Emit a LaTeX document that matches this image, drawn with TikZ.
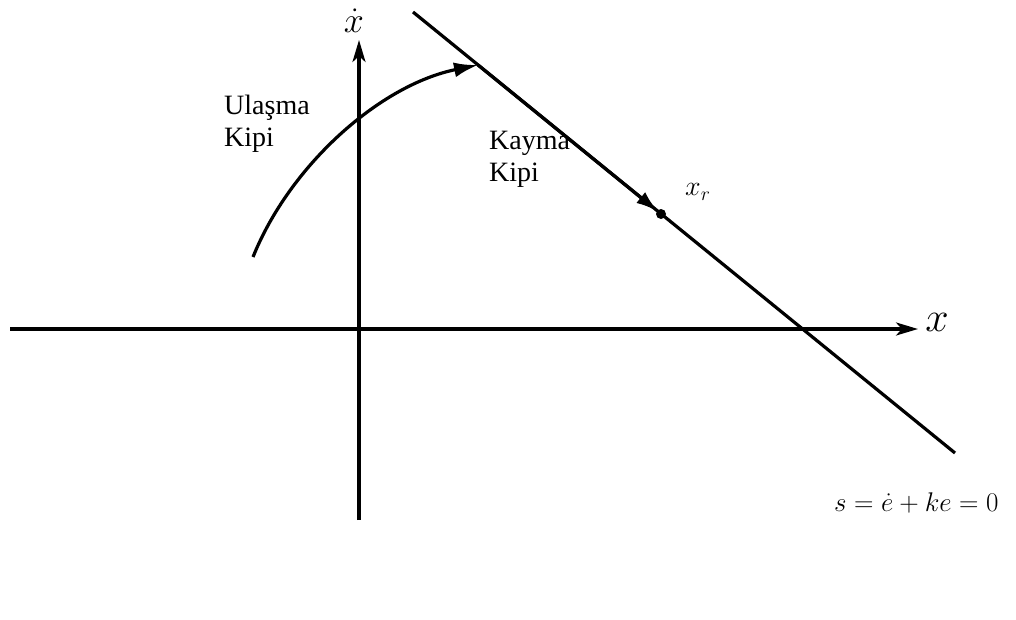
\RequirePackage{fix-cm}
\documentclass[tikz,border=0pt]{standalone}
\usepackage{fontspec}
\setmainfont{Liberation Serif}
\usetikzlibrary{arrows.meta}
\begin{document}
\begin{tikzpicture}[x=1pt,y=-1pt,
  ax/.style={line width=3.2pt,-{Stealth[length=22pt,width=13pt,inset=6pt]}},
  ln/.style={line width=3.2pt},
  lbl/.style={font=\fontsize{28}{32}\selectfont,align=left,inner sep=0pt},
  mlbl/.style={inner sep=0pt}]
\useasboundingbox (0,0) rectangle (1016,619);
% axes
\coordinate (xl) at (10,329);
\coordinate (xr) at (918,329);
\coordinate (yb) at (359,520);
\coordinate (yt) at (359,40);
\draw[ax] (xl) -- (xr);
\draw[ax] (yb) -- (yt);
\node[mlbl,font=\fontsize{42}{42}\selectfont] (xlab) at (937,322) {$x$};
\node[mlbl,font=\fontsize{36}{36}\selectfont,anchor=base] (ylab) at (354,32) {$\dot{x}$};
% sliding line
\coordinate (st) at (413,12);
\coordinate (se) at (955,453);
\coordinate (tp) at (478,65);
\node[circle,fill=black,inner sep=0pt,minimum size=10pt] (xr0) at (661,214) {};
\draw[ln] (st) -- (se);
\draw[ln,-{Latex[length=22pt,width=14pt]},shorten >=4pt] (tp) -- (xr0.center);
% reaching curve
\coordinate (cs) at (253,257);
\draw[ln,-{Latex[length=24pt,width=15pt]}] (cs) .. controls (290,165) and (380,85) .. (tp);
% labels
\node[lbl,anchor=north west] (ul) at (224,95) {Ulaşma\\Kipi};
\node[lbl,anchor=north west] (ka) at (489,131) {Kayma\\Kipi};
\node[mlbl,font=\fontsize{28}{28}\selectfont,anchor=west] (xrl) at (685,192) {$x_r$};
\node[mlbl,font=\fontsize{27}{27}\selectfont,anchor=west] (eq) at (834,503) {$s=\dot{e}+ke=0$};
\end{tikzpicture}
\end{document}
